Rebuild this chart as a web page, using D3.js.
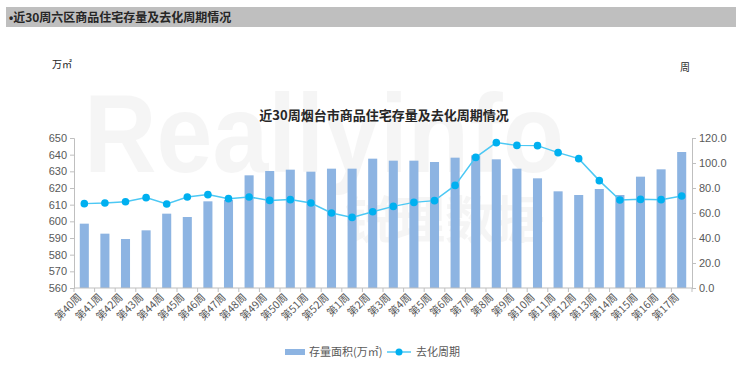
<!DOCTYPE html>
<html>
<head>
<meta charset="utf-8">
<script src="https://cdn.jsdelivr.net/npm/d3@7/dist/d3.min.js"></script>
<style>
  body { margin: 0; background: #fff; }
  svg { display: block; font-family: "Noto Sans CJK SC", "Noto Sans", sans-serif; }
</style>
</head>
<body>
<div id="chart"></div>
<script>
// Weeks, stock area (万㎡) and sell-through period (周)
const weeks = ["第40周", "第41周", "第42周", "第43周", "第44周", "第45周", "第46周", "第47周",
  "第48周", "第49周", "第50周", "第51周", "第52周", "第1周", "第2周", "第3周", "第4周",
  "第5周", "第6周", "第7周", "第8周", "第9周", "第10周", "第11周", "第12周", "第13周",
  "第14周", "第15周", "第16周", "第17周"];

const stock = [598.6, 592.6, 589.4, 594.6, 604.6, 602.6, 612.0, 612.8, 627.6, 630.2,
  631.0, 629.8, 631.6, 631.6, 637.6, 636.4, 636.4, 635.6, 638.2, 639.6,
  637.2, 631.6, 625.8, 618.0, 615.8, 619.4, 615.8, 626.8, 631.2, 641.6];

const cycle = [67.5, 68.0, 69.0, 72.3, 67.2, 72.8, 74.7, 71.5, 72.8, 70.1,
  70.7, 68.0, 60.0, 56.5, 61.0, 65.3, 68.5, 69.9, 82.1, 104.5,
  116.3, 114.1, 113.9, 108.3, 103.5, 85.9, 70.4, 70.9, 70.7, 73.6];

const leftTicks = [560, 570, 580, 590, 600, 610, 620, 630, 640, 650];
const rightTicks = [0, 20, 40, 60, 80, 100, 120];

function draw() {
  const width = 740, height = 377;
  const margin = { top: 138, right: 48, bottom: 89, left: 74 };
  const innerWidth = width - margin.left - margin.right;
  const innerHeight = height - margin.top - margin.bottom;
  const textColor = "#595959";
  const axisColor = "#bfbfbf";

  const svg = d3.select("#chart")
    .append("svg")
    .attr("width", width)
    .attr("height", height);

  // Section header bar
  svg.append("rect")
    .attr("x", 6).attr("y", 7)
    .attr("width", 730).attr("height", 20)
    .attr("fill", "#bfbfbf");

  const header = svg.append("text")
    .attr("x", 9).attr("y", 21.5)
    .style("font-size", "12px")
    .style("font-weight", "bold")
    .style("fill", "#262626");
  header.append("tspan")
    .style("font-family", "Liberation Sans, sans-serif")
    .text("•");
  header.append("tspan")
    .text("近30周六区商品住宅存量及去化周期情况");

  // Faint watermark
  svg.append("text")
    .attr("x", 84).attr("y", 172)
    .attr("textLength", 480)
    .attr("lengthAdjust", "spacingAndGlyphs")
    .style("font-size", "112px")
    .style("font-weight", "bold")
    .style("font-family", "Liberation Sans, sans-serif")
    .style("fill", "#000")
    .style("opacity", 0.035)
    .text("Reallyinfo");

  svg.append("text")
    .attr("x", 345).attr("y", 238)
    .style("font-size", "50px")
    .style("font-weight", "bold")
    .style("fill", "#000")
    .style("opacity", 0.035)
    .text("锐理数据");

  // Unit labels
  svg.append("text")
    .attr("x", 52).attr("y", 68)
    .style("font-size", "10px")
    .style("fill", "#262626")
    .text("万㎡");

  svg.append("text")
    .attr("x", 680).attr("y", 71)
    .style("font-size", "10px")
    .style("fill", "#262626")
    .text("周");

  // Chart title
  svg.append("text")
    .attr("x", 384).attr("y", 120)
    .attr("text-anchor", "middle")
    .style("font-size", "13px")
    .style("font-weight", "bold")
    .style("fill", "#262626")
    .text("近30周烟台市商品住宅存量及去化周期情况");

  const chartG = svg.append("g")
    .attr("transform", `translate(${margin.left}, ${margin.top})`);

  // Scales
  const x = d3.scaleBand()
    .domain(weeks)
    .range([0, innerWidth])
    .paddingInner(0.56)
    .paddingOuter(0.28);

  const yLeft = d3.scaleLinear()
    .domain([560, 650])
    .range([innerHeight, 0]);

  const yRight = d3.scaleLinear()
    .domain([0, 120])
    .range([innerHeight, 0]);

  const step = innerWidth / weeks.length;
  const cx = d => x(d) + x.bandwidth() / 2;

  // Bars
  chartG.selectAll(".bar")
    .data(weeks)
    .join("rect")
    .attr("class", "bar")
    .attr("x", d => x(d))
    .attr("width", x.bandwidth())
    .attr("y", (d, i) => yLeft(stock[i]))
    .attr("height", (d, i) => innerHeight - yLeft(stock[i]))
    .attr("fill", "#8db4e2");

  // Axes
  const leftAxis = chartG.append("g")
    .call(d3.axisLeft(yLeft).tickValues(leftTicks).tickSize(4).tickPadding(3));

  const rightAxis = chartG.append("g")
    .attr("transform", `translate(${innerWidth}, 0)`)
    .call(d3.axisRight(yRight).tickValues(rightTicks).tickSize(4).tickPadding(3)
      .tickFormat(d3.format(".1f")));

  // Bottom axis: ticks at category boundaries
  const bottomAxis = chartG.append("g")
    .attr("transform", `translate(0, ${innerHeight})`);

  bottomAxis.append("line")
    .attr("x1", 0).attr("x2", innerWidth)
    .attr("stroke", axisColor);

  bottomAxis.selectAll(".btick")
    .data(d3.range(weeks.length + 1))
    .join("line")
    .attr("class", "btick")
    .attr("x1", i => i * step).attr("x2", i => i * step)
    .attr("y1", 0).attr("y2", 4)
    .attr("stroke", axisColor);

  bottomAxis.selectAll(".blabel")
    .data(weeks)
    .join("text")
    .attr("class", "blabel")
    .attr("text-anchor", "end")
    .attr("transform", d => `translate(${cx(d) - 2}, 10) rotate(-45)`)
    .style("font-size", "10.5px")
    .style("fill", textColor)
    .text(d => d);

  [leftAxis, rightAxis].forEach(a => {
    a.select(".domain").attr("stroke", axisColor);
    a.selectAll(".tick line").attr("stroke", axisColor);
    a.selectAll(".tick text")
      .style("font-size", "11px")
      .style("font-family", "Liberation Sans, Arial, sans-serif")
      .style("fill", textColor);
  });

  // Line + markers
  const line = d3.line()
    .x((d, i) => cx(weeks[i]))
    .y(d => yRight(d));

  chartG.append("path")
    .datum(cycle)
    .attr("fill", "none")
    .attr("stroke", "#4cc8f4")
    .attr("stroke-width", 1.5)
    .attr("d", line);

  chartG.selectAll(".dot")
    .data(cycle)
    .join("circle")
    .attr("class", "dot")
    .attr("cx", (d, i) => cx(weeks[i]))
    .attr("cy", d => yRight(d))
    .attr("r", 3.8)
    .attr("fill", "#00b0f0");

  // Legend
  const legendG = svg.append("g")
    .attr("transform", "translate(285, 352)");

  legendG.append("rect")
    .attr("x", 0).attr("y", -3)
    .attr("width", 20).attr("height", 6)
    .attr("fill", "#8db4e2");

  legendG.append("text")
    .attr("x", 24).attr("y", 4)
    .style("font-size", "11px")
    .style("fill", textColor)
    .text("存量面积(万㎡)");

  legendG.append("line")
    .attr("x1", 102).attr("x2", 126)
    .attr("stroke", "#4cc8f4")
    .attr("stroke-width", 1.5);

  legendG.append("circle")
    .attr("cx", 114).attr("cy", 0)
    .attr("r", 3.5)
    .attr("fill", "#00b0f0");

  legendG.append("text")
    .attr("x", 131).attr("y", 4)
    .style("font-size", "11px")
    .style("fill", textColor)
    .text("去化周期");
}

draw();
</script>
</body>
</html>
